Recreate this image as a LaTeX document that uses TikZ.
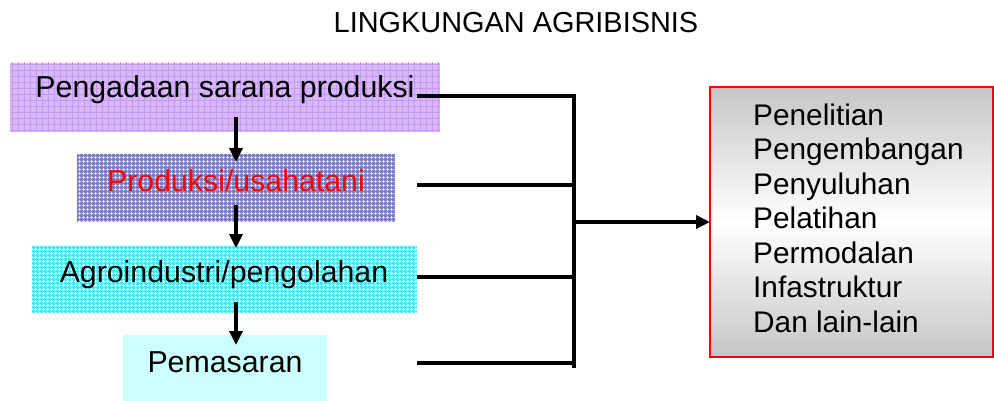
\documentclass[tikz,border=0pt]{standalone}
\usepackage{fontspec}
\setmainfont{Liberation Sans}
\usetikzlibrary{arrows.meta,patterns.meta}

\definecolor{lilacbase}{HTML}{D8B8FA}
\definecolor{lilacline}{HTML}{C29AF2}
\definecolor{navybase}{HTML}{7C7CC8}
\definecolor{cyanbase}{HTML}{40E8FF}
\definecolor{palecyan}{HTML}{CCFFFF}
\definecolor{sidegray}{HTML}{C6C6C6}

\tikzset{
  stagebox/.style={rectangle, draw=none, inner sep=0pt, outer sep=0pt, anchor=north west},
  lilacfill/.style={stagebox, fill=lilacbase,
    postaction={pattern={Hatch[angle=0,distance=6pt,line width=1pt]}, pattern color=lilacline}},
  navyfill/.style={stagebox, fill=navybase,
    postaction={pattern={Hatch[angle=0,distance=4pt,line width=0.8pt]}, pattern color=white}},
  cyanfill/.style={stagebox, fill=cyanbase,
    postaction={pattern={Hatch[angle=0,distance=4pt,line width=1pt]}, pattern color=white}},
  plainfill/.style={stagebox, fill=palecyan},
  label/.style={anchor=base, inner sep=0pt, font=\fontsize{30.3}{34.5}\selectfont},
  wire/.style={line width=3.4pt, black},
  flow/.style={wire, -{Triangle[length=14pt,width=13pt]}},
  sidebox/.style={rectangle, draw=red, line width=2pt, inner sep=0pt, outer sep=0pt,
    anchor=north west, top color=sidegray, bottom color=sidegray, middle color=white}
}

\begin{document}
\begin{tikzpicture}[x=1pt,y=-1pt]
\useasboundingbox (0,0) rectangle (994,401);

% heading
\node[anchor=base, inner sep=0pt, font=\fontsize{28.9}{34}\selectfont] (title) at (516,33) {LINGKUNGAN AGRIBISNIS};

% the four stages of the chain
\node[lilacfill, minimum width=430pt, minimum height=69pt] (b1) at (10,63) {};
\node[navyfill,  minimum width=318pt, minimum height=68pt] (b2) at (77,154) {};
\node[cyanfill,  minimum width=385pt, minimum height=68pt] (b3) at (32,245) {};
\node[plainfill, minimum width=204pt, minimum height=66pt] (b4) at (123,335) {};

\node[label] (t1) at (225,98) {Pengadaan sarana produksi};
\node[label, text=red] (t2) at (236,192) {Produksi/usahatani};
\node[label] (t3) at (224,282) {Agroindustri/pengolahan};
\node[label] (t4) at (225,372) {Pemasaran};

% downward flow between the stages
\coordinate (d1a) at (236,117); \coordinate (d1b) at (236,162);
\coordinate (d2a) at (236,205); \coordinate (d2b) at (236,248);
\coordinate (d3a) at (236,302); \coordinate (d3b) at (236,345);
\draw[flow] (d1a) -- (d1b);
\draw[flow] (d2a) -- (d2b);
\draw[flow] (d3a) -- (d3b);

% supporting services
\node[sidebox, minimum width=283pt, minimum height=270pt] (side) at (710,87) {};
\node[anchor=north west, inner sep=0pt, align=left,
      font=\fontsize{29.8}{34.5}\selectfont] (services) at (753,103.5)
  {Penelitian\\Pengembangan\\Penyuluhan\\Pelatihan\\Permodalan\\Infastruktur\\Dan lain-lain};

% collecting bus
\coordinate (h1) at (417,96);
\coordinate (h2) at (417,185);
\coordinate (h3) at (417,277);
\coordinate (h4) at (417,363);
\coordinate (bt) at (574,96);
\coordinate (bb) at (574,368);
\coordinate (bm) at (574,222);
\draw[wire] (h1) -- (bt) -- (bb);
\draw[wire] (h2) -- (h2 -| bt);
\draw[wire] (h3) -- (h3 -| bt);
\draw[wire] (h4) -- (h4 -| bt);
\draw[flow] (bm) -- (side.west);
\end{tikzpicture}
\end{document}
